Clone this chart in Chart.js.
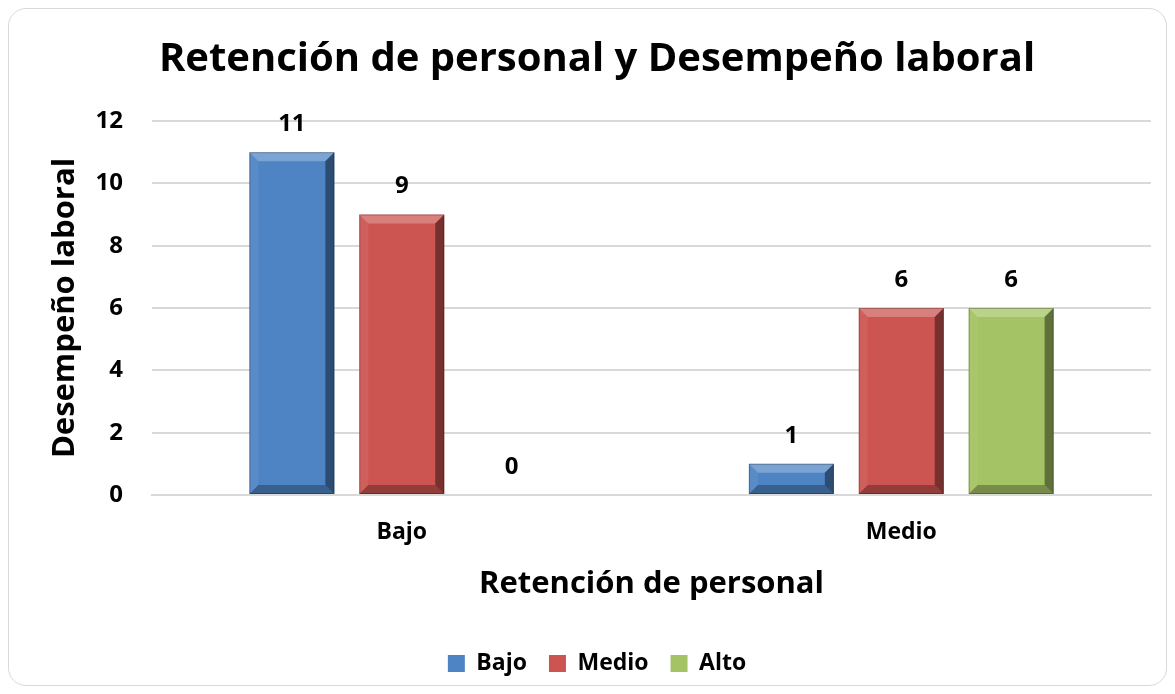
<!DOCTYPE html>
<html>
<head>
<meta charset="utf-8">
<script src="https://cdn.jsdelivr.net/npm/chart.js@4.4.1/dist/chart.umd.min.js"></script>
<style>
  html, body { margin: 0; padding: 0; background: #fff; }
  .frame {
    position: absolute; left: 8px; top: 8px; width: 1157px; height: 676px;
    border: 1px solid #d9d9d9; border-radius: 18px; background: #fff;
  }
  .wrap { position: absolute; left: 0; top: 0; width: 1175px; height: 694px; }
</style>
</head>
<body>
<div class="frame"></div>
<div class="wrap"><canvas id="grafico" width="1175" height="694"></canvas></div>
<script>
// datos
const categorias = ["Bajo", "Medio"];
const serieBajo = [11, 1];
const serieMedio = [9, 6];
const serieAlto = [0, 6];
const ticksY = [0, 2, 4, 6, 8, 10, 12];

const FUENTE = "'Open Sans', 'DejaVu Sans', sans-serif";

// =========================
// efecto biselado sobre las barras
// =========================
const biselPlugin = {
  id: "bisel",
  afterDatasetsDraw(chart) {
    const ctx = chart.ctx;
    chart.data.datasets.forEach((ds, i) => {
      const meta = chart.getDatasetMeta(i);
      meta.data.forEach(bar => {
        const x0 = bar.x - bar.width / 2, x1 = bar.x + bar.width / 2;
        const y0 = bar.y, y1 = bar.base;
        const h = y1 - y0;
        if (h < 1) return;
        const b = Math.min(9, h / 2);
        ctx.save();
        // arriba claro
        ctx.fillStyle = "rgba(255,255,255,0.25)";
        ctx.beginPath();
        ctx.moveTo(x0, y0); ctx.lineTo(x1, y0); ctx.lineTo(x1 - b, y0 + b); ctx.lineTo(x0 + b, y0 + b);
        ctx.fill();
        // izquierda
        ctx.fillStyle = "rgba(255,255,255,0.06)";
        ctx.beginPath();
        ctx.moveTo(x0, y0); ctx.lineTo(x0 + b, y0 + b); ctx.lineTo(x0 + b, y1 - b); ctx.lineTo(x0, y1);
        ctx.fill();
        // derecha oscuro
        ctx.fillStyle = "rgba(0,0,0,0.42)";
        ctx.beginPath();
        ctx.moveTo(x1, y0); ctx.lineTo(x1, y1); ctx.lineTo(x1 - b, y1 - b); ctx.lineTo(x1 - b, y0 + b);
        ctx.fill();
        // abajo oscuro
        ctx.fillStyle = "rgba(0,0,0,0.28)";
        ctx.beginPath();
        ctx.moveTo(x0, y1); ctx.lineTo(x1, y1); ctx.lineTo(x1 - b, y1 - b); ctx.lineTo(x0 + b, y1 - b);
        ctx.fill();
        ctx.strokeStyle = "rgba(0,0,0,0.25)";
        ctx.lineWidth = 1;
        ctx.strokeRect(x0 + 0.5, y0 + 0.5, bar.width - 1, h - 1);
        ctx.restore();
      });
    });
  }
};

// =========================
// etiquetas de valor encima de las barras
// =========================
const etiquetasPlugin = {
  id: "etiquetas",
  afterDatasetsDraw(chart) {
    const ctx = chart.ctx;
    ctx.save();
    ctx.font = "bold 24px " + FUENTE;
    ctx.fillStyle = "#000";
    ctx.textAlign = "center";
    ctx.textBaseline = "middle";
    chart.data.datasets.forEach((ds, i) => {
      chart.getDatasetMeta(i).data.forEach((bar, j) => {
        ctx.fillText(String(ds.data[j]), bar.x, bar.y - 28);
      });
    });
    ctx.restore();
  }
};

new Chart(document.getElementById("grafico"), {
  type: "bar",
  data: {
    labels: categorias,
    datasets: [
      { label: "Bajo", data: serieBajo, backgroundColor: "#4f84c4" },
      { label: "Medio", data: serieMedio, backgroundColor: "#cc5551" },
      { label: "Alto", data: serieAlto, backgroundColor: "#a4c364" }
    ]
  },
  options: {
    responsive: false,
    animation: false,
    events: [],
    layout: { padding: { left: 43, right: 24, top: 36, bottom: 9 } },
    datasets: { bar: { barPercentage: 0.773, categoryPercentage: 0.66 } },
    scales: {
      y: {
        min: 0, max: 12,
        afterBuildTicks(scale) { scale.ticks = ticksY.map(v => ({ value: v })); },
        afterFit(scale) { scale.width = 109; },
        border: { display: false },
        grid: { color: "#d9d9d9", lineWidth: 2, drawTicks: false },
        ticks: { color: "#000", padding: 29, font: { family: FUENTE, size: 24, weight: "bold" } },
        title: { display: true, text: "Desempeño laboral", color: "#000", padding: { top: 4, bottom: 10 },
                 font: { family: FUENTE, size: 31, weight: "bold" } }
      },
      x: {
        afterFit(scale) { scale.height = 135; },
        border: { display: true, color: "#d9d9d9", width: 2 },
        grid: { display: false, drawTicks: false },
        ticks: { color: "#000", padding: 24, font: { family: FUENTE, size: 23, weight: "bold" } },
        title: { display: true, text: "Retención de personal", color: "#000", padding: { top: 18, bottom: 27 },
                 font: { family: FUENTE, size: 31, weight: "bold" } }
      }
    },
    plugins: {
      title: {
        display: true,
        text: "Retención de personal y Desempeño laboral",
        color: "#000",
        font: { family: FUENTE, size: 40, weight: "bold" },
        padding: { top: 0, bottom: 37 }
      },
      legend: {
        position: "bottom",
        labels: {
          color: "#000",
          boxWidth: 17, boxHeight: 17,
          padding: 22,
          font: { family: FUENTE, size: 23, weight: "bold" }
        }
      },
      tooltip: { enabled: false }
    }
  },
  plugins: [biselPlugin, etiquetasPlugin]
});
</script>
</body>
</html>
